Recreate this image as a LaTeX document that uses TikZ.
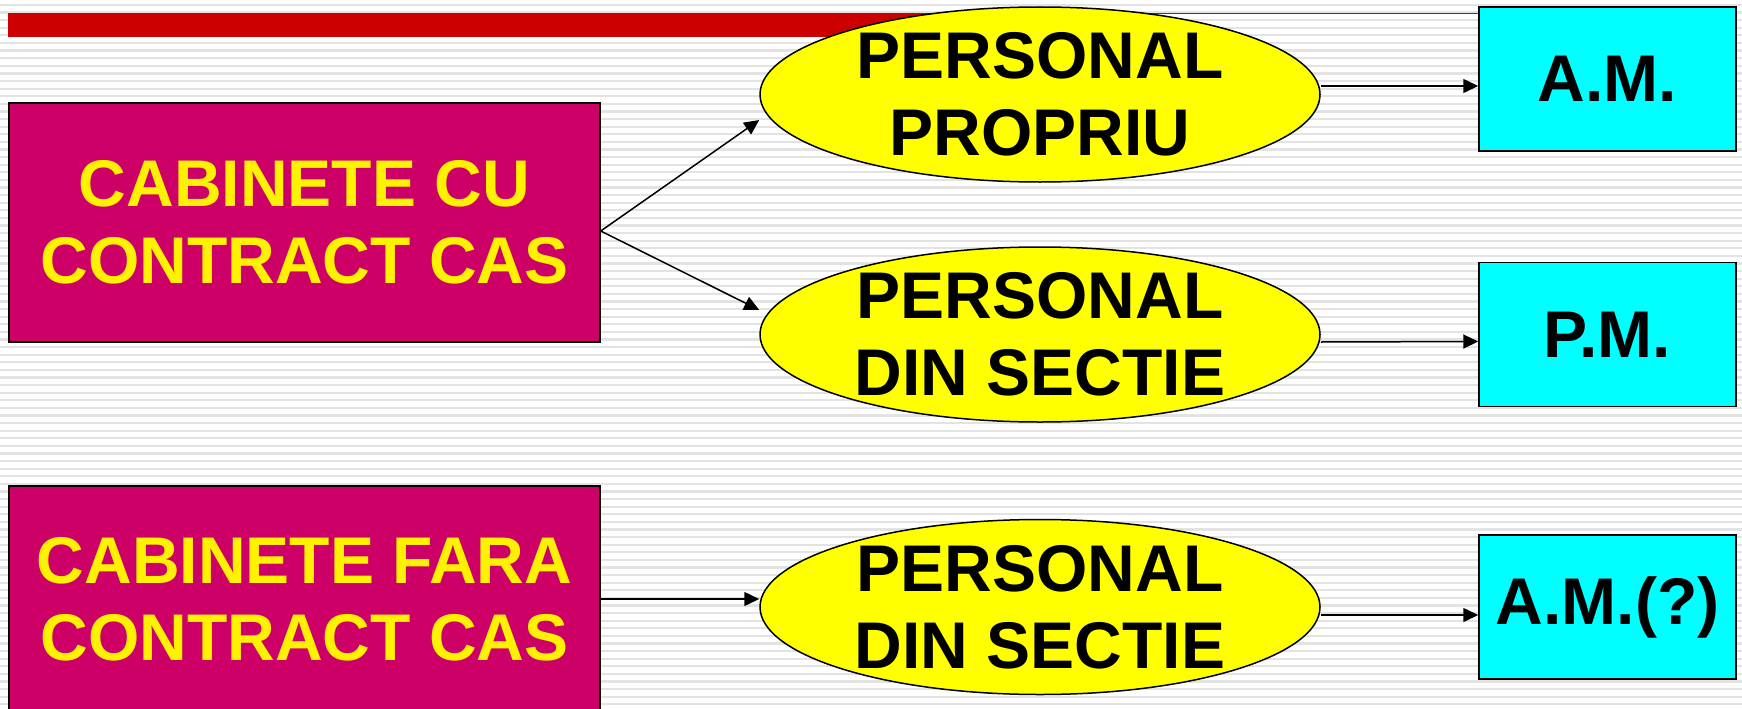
\documentclass[tikz,border=0pt]{standalone}
\usepackage{fontspec}
\setmainfont{Liberation Sans}
\usetikzlibrary{positioning, calc, shapes.geometric, arrows.meta}

\definecolor{cabpink}{HTML}{CC0066}
\definecolor{ovalyellow}{HTML}{FFFF00}
\definecolor{boxcyan}{HTML}{00FFFF}
\definecolor{barred}{HTML}{CC0000}
\definecolor{stripegray}{HTML}{E3E3E3}

\begin{document}
\begin{tikzpicture}[x=1pt, y=-1pt, line width=1.5pt, node distance=735.5pt]
    % Define block styles
    \tikzstyle{cabinet} = [rectangle, draw, fill=cabpink, text=yellow, minimum width=591pt, minimum height=239pt, inner sep=0pt, align=center, font=\fontsize{66}{77}\selectfont\bfseries]
    \tikzstyle{oval} = [ellipse, draw, fill=ovalyellow, minimum width=560pt, minimum height=175pt, inner sep=0pt, align=center, font=\fontsize{66}{77}\selectfont\bfseries]
    \tikzstyle{staff} = [rectangle, draw, fill=boxcyan, minimum width=257pt, minimum height=144pt, inner sep=0pt, font=\fontsize{66}{77}\selectfont\bfseries]
    \tikzstyle{arr} = [-{Triangle[length=15pt, width=14pt]}]

    \useasboundingbox (0,0) rectangle (1742,709);
    \clip (0,0) rectangle (1742,709);

    % Background stripes and title bar
    \fill[white] (0,0) rectangle (1742,709);
    \foreach \k in {0,...,92}
        \draw[stripegray, line width=2.2pt] (0,{5+7.6*\k}) -- (1742,{5+7.6*\k});
    \fill[barred] (8,13) rectangle (1000,37);
    \draw[barred, line width=1.3pt] (1000,13.5) -- (1480,13.5);

    % Place nodes
    \node [cabinet] (cab_contract) at (304.5,222.5) {CABINETE CU\\CONTRACT CAS};
    \node [oval, right of=cab_contract, yshift=128pt] (pers_propriu) {PERSONAL\\PROPRIU};
    \node [oval, right of=cab_contract, yshift=-112pt] (pers_sectie) {PERSONAL\\DIN SECTIE};
    \node [cabinet, minimum height=226pt, below of=cab_contract, node distance=376.5pt] (cab_fara) {CABINETE FARA\\CONTRACT CAS};
    \node [oval, right of=cab_fara, yshift=-8pt] (pers_sectie_fara) {PERSONAL\\DIN SECTIE};
    \node [staff, right of=pers_propriu, node distance=567.5pt, yshift=15.5pt] (am) {A.M.};
    \node [staff, right of=pers_sectie, node distance=567.5pt] (pm) {P.M.};
    \node [staff, right of=pers_sectie_fara, node distance=567.5pt] (am_fara) {A.M.(?)};

    % Draw connections as arrows
    \draw [arr] ($(cab_contract.east)+(0,8.5)$) -- ($(pers_propriu.west)+(0,25.5)$);
    \draw [arr] ($(cab_contract.east)+(0,8.5)$) -- ($(pers_sectie.west)+(0,-24.5)$);
    \draw [arr] ($(pers_propriu.east)+(0,-8.5)$) -- ($(am.west)+(0,7)$);
    \draw [arr] ($(pers_sectie.east)+(0,7.5)$) -- ($(pm.west)+(0,7)$);
    \draw [arr] (cab_fara.east) -- ($(pers_sectie_fara.west)+(0,-8)$);
    \draw [arr] ($(pers_sectie_fara.east)+(0,8)$) -- ($(am_fara.west)+(0,8)$);
\end{tikzpicture}
\end{document}
